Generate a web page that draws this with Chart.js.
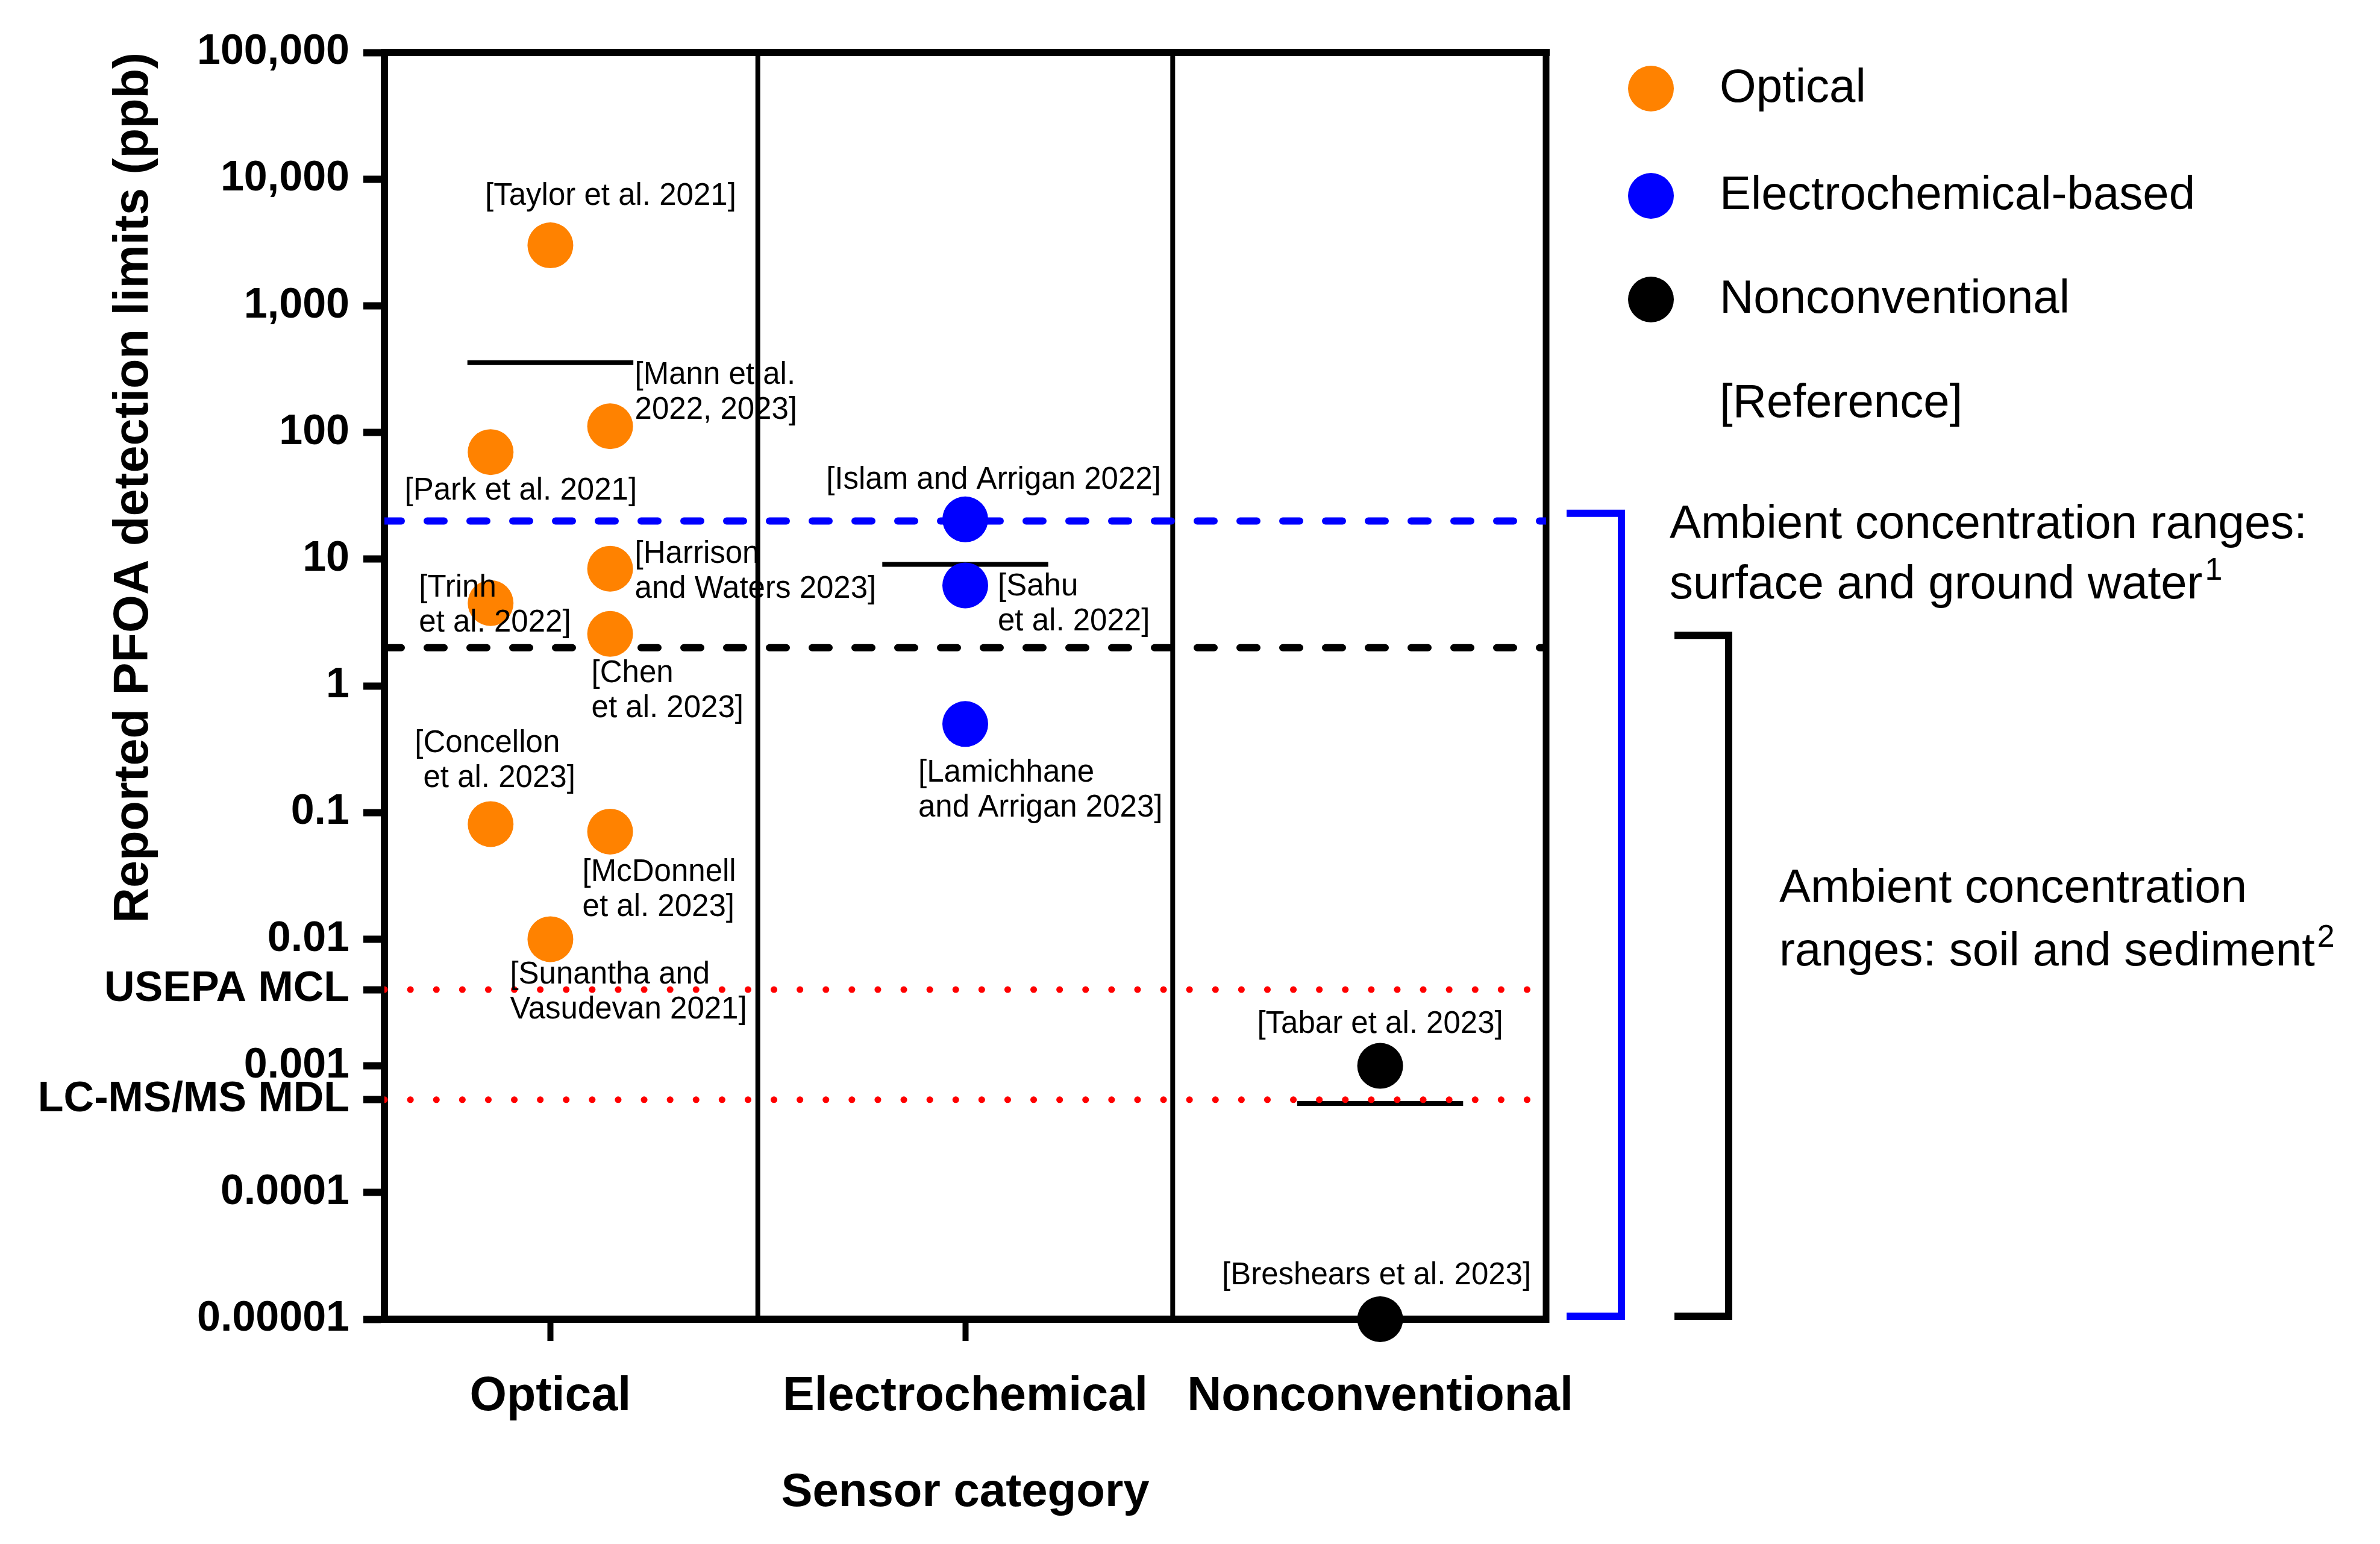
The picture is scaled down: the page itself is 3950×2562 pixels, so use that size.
<!DOCTYPE html>
<html>
<head>
<meta charset="utf-8">
<style>
  html, body { margin: 0; padding: 0; background: #fff; }
  #wrap { width: 3950px; height: 2562px; }
</style>
<script src="https://cdn.jsdelivr.net/npm/chart.js@4.4.0/dist/chart.umd.min.js"></script>
</head>
<body>
<div id="wrap"><canvas id="myChart" width="3950" height="2562"></canvas></div>
<script>
// DATA
const categories = ['Optical', 'Electrochemical', 'Nonconventional'];
const seriesNames = ['Optical', 'Electrochemical-based', 'Nonconventional'];

const yTickValues = [0.00001, 0.0001, 0.00054, 0.001, 0.004, 0.01, 0.1, 1, 10, 100, 1000, 10000, 100000];
const yTickLabels = ['0.00001', '0.0001', 'LC-MS/MS MDL', '0.001', 'USEPA MCL', '0.01', '0.1', '1', '10', '100', '1,000', '10,000', '100,000'];

const opticalRefs = [['[Taylor et al. 2021]'], ['[Mann et al.', '2022, 2023]'], ['[Park et al. 2021]'],
  ['[Harrison', 'and Waters 2023]'], ['[Trinh', 'et al. 2022]'], ['[Chen', 'et al. 2023]'],
  ['[Concellon', ' et al. 2023]'], ['[McDonnell', 'et al. 2023]'], ['[Sunantha and', 'Vasudevan 2021]']];
const opticalLimits = [3000, 112, 70, 8.4, 4.5, 2.57, 0.081, 0.0706, 0.01];
const opticalJitter = [0, 0.144, -0.144, 0.144, -0.144, 0.144, -0.144, 0.144, 0];

const electroRefs = [['[Islam and Arrigan 2022]'], ['[Sahu', 'et al. 2022]'], ['[Lamichhane', 'and Arrigan 2023]']];
const electroLimits = [20.6, 6.2, 0.5];

const nonconvRefs = [['[Tabar et al. 2023]'], ['[Breshears et al. 2023]']];
const nonconvLimits = [0.001, 0.00001];

const waterLevel = 20;      // blue dashed
const soilLevel = 2;        // black dashed
const mclLevel = 0.004;     // USEPA MCL
const mdlLevel = 0.00054;   // LC-MS/MS MDL
const waterRange = [23, 0.00001];
const soilRange = [2.5, 0.00001];

// label placement: [dx, dy of first line, align] relative to the point
const opticalLabelPos = [[100, -81, 'center'], [41, -84, 'left'], [50, 65, 'center'], [41, -24, 'left'],
  [-119, -25, 'left'], [-31, 66, 'left'], [-126, -133, 'left'], [-46, 68, 'left'], [-67, 60, 'left']];
const electroLabelPos = [[47, -65, 'center'], [54, 2, 'left'], [-78, 82, 'left']];
const nonconvLabelPos = [[0, -69, 'center'], [-6, -72, 'center']];

const seriesColors = ['rgb(255,130,0)', 'rgb(0,0,255)', '#000000'];
const FONT = '"Liberation Sans", Arial, Helvetica, sans-serif';

function pts(limits, cat, jitter) {
  return limits.map(function (v, i) { return { x: cat + (jitter ? jitter[i] : 0), y: v }; });
}
function mean(a) { return a.reduce(function (s, v) { return s + v; }, 0) / a.length; }
function meanLine(limits, cat) { var m = mean(limits); return [{ x: cat - 0.2, y: m }, { x: cat + 0.2, y: m }]; }
function hLine(v) { return [{ x: 0.6, y: v }, { x: 3.4, y: v }]; }
function vLine(xv) { return [{ x: xv, y: 0.00001 }, { x: xv, y: 100000 }]; }

function pointSet(i, limits, cat, jitter, refs, pos) {
  return {
    type: 'scatter', label: seriesNames[i], data: pts(limits, cat, jitter),
    backgroundColor: seriesColors[i], pointRadius: 38, pointBorderWidth: 0,
    clip: false, order: 0, refs: refs, labelPos: pos
  };
}
function lineSet(data, color, width, dash, order) {
  return {
    type: 'line', data: data, borderColor: color, borderWidth: width, borderDash: dash || [],
    borderCapStyle: dash ? 'round' : 'butt', pointRadius: 0, fill: false, order: order
  };
}

const data = {
  datasets: [
    pointSet(0, opticalLimits, 1, opticalJitter, opticalRefs, opticalLabelPos),
    pointSet(1, electroLimits, 2, null, electroRefs, electroLabelPos),
    pointSet(2, nonconvLimits, 3, null, nonconvRefs, nonconvLabelPos),
    lineSet(hLine(mclLevel), 'rgb(255,0,0)', 11, [0.1, 43], 1),
    lineSet(hLine(mdlLevel), 'rgb(255,0,0)', 11, [0.1, 43], 1),
    lineSet(meanLine(opticalLimits, 1), '#000', 8, null, 2),
    lineSet(meanLine(electroLimits, 2), '#000', 8, null, 2),
    lineSet(meanLine(nonconvLimits, 3), '#000', 8, null, 2),
    lineSet(hLine(waterLevel), 'rgb(0,0,255)', 12, [28, 43], 3),
    lineSet(hLine(soilLevel), '#000', 12, [28, 43], 3),
    lineSet(vLine(1.5), '#000', 8, null, 4),
    lineSet(vLine(2.5), '#000', 8, null, 4)
  ]
};

// frame top/right
const framePlugin = {
  id: 'frame',
  beforeDatasetsDraw(chart) {
    const a = chart.chartArea, ctx = chart.ctx;
    ctx.save();
    ctx.strokeStyle = '#000';
    ctx.lineWidth = 12;
    ctx.beginPath(); ctx.moveTo(a.left - 6, a.top); ctx.lineTo(a.right + 6, a.top); ctx.stroke();
    ctx.lineWidth = 11;
    ctx.beginPath(); ctx.moveTo(a.right, a.top); ctx.lineTo(a.right, a.bottom + 6); ctx.stroke();
    ctx.restore();
  }
};

// citation labels next to points
const refLabelPlugin = {
  id: 'refLabels',
  afterDatasetsDraw(chart) {
    const ctx = chart.ctx;
    ctx.save();
    ctx.fillStyle = '#000';
    ctx.font = '51px ' + FONT;
    ctx.textBaseline = 'middle';
    chart.data.datasets.forEach(function (ds, di) {
      if (!ds.refs) return;
      const meta = chart.getDatasetMeta(di);
      meta.data.forEach(function (el, i) {
        const p = ds.labelPos[i];
        ctx.textAlign = p[2];
        ds.refs[i].forEach(function (line, k) {
          ctx.fillText(line, el.x + p[0], el.y + p[1] + k * 58);
        });
      });
    });
    ctx.restore();
  }
};

// legend, brackets and notes on the right
const sidePlugin = {
  id: 'side',
  afterDraw(chart) {
    const ctx = chart.ctx, y = chart.scales.y;
    ctx.save();
    const rows = [147, 325, 497, 670];
    ctx.font = '78px ' + FONT;
    ctx.textBaseline = 'middle';
    ctx.textAlign = 'left';
    seriesNames.forEach(function (name, i) {
      ctx.fillStyle = chart.data.datasets[i].backgroundColor;
      ctx.beginPath(); ctx.arc(2740, rows[i], 38, 0, Math.PI * 2); ctx.fill();
      ctx.fillStyle = '#000';
      ctx.fillText(name, 2854, rows[i]);
    });
    ctx.fillText('[Reference]', 2854, rows[3]);

    function bracket(x0, x1, top, bottom, color) {
      ctx.strokeStyle = color; ctx.lineWidth = 12; ctx.lineJoin = 'miter'; ctx.lineCap = 'butt';
      ctx.beginPath(); ctx.moveTo(x0, top); ctx.lineTo(x1, top); ctx.lineTo(x1, bottom); ctx.lineTo(x0, bottom); ctx.stroke();
    }
    bracket(2600, 2691, y.getPixelForValue(waterRange[0]), y.getPixelForValue(waterRange[1]) - 5, 'rgb(0,0,255)');
    bracket(2779, 2869, y.getPixelForValue(soilRange[0]), y.getPixelForValue(soilRange[1]) - 5, '#000');

    function note(lines, x, base, gap, sup) {
      ctx.textBaseline = 'alphabetic';
      ctx.fillStyle = '#000';
      lines.forEach(function (t, k) {
        ctx.font = '78px ' + FONT;
        ctx.fillText(t, x, base + k * gap);
        if (k === lines.length - 1) {
          const w = ctx.measureText(t).width;
          ctx.font = '52px ' + FONT;
          ctx.fillText(sup, x + w + 4, base + k * gap - 31);
        }
      });
    }
    note(['Ambient concentration ranges:', 'surface and ground water'], 2771, 893, 100, '1');
    note(['Ambient concentration', 'ranges: soil and sediment'], 2953, 1497, 105, '2');
    ctx.restore();
  }
};

const config = {
  type: 'scatter',
  data: data,
  options: {
    responsive: false,
    devicePixelRatio: 1,
    animation: false,
    events: [],
    layout: { padding: { left: 0, top: 87, right: 1384, bottom: 0 } },
    plugins: { legend: { display: false }, tooltip: { enabled: false } },
    scales: {
      x: {
        type: 'linear', position: 'bottom', min: 0.6, max: 3.4,
        afterBuildTicks: function (axis) { axis.ticks = [1, 2, 3].map(function (v) { return { value: v }; }); },
        afterFit: function (scale) { scale.height = 373; },
        ticks: {
          autoSkip: false, maxRotation: 0, padding: 46, color: '#000',
          font: { family: FONT, size: 79, weight: 'bold' },
          callback: function (v) { return categories[Math.round(v) - 1]; }
        },
        grid: { display: true, drawOnChartArea: false, drawTicks: true, tickLength: 36, tickWidth: 10, tickColor: '#000', color: '#000' },
        border: { display: true, width: 12, color: '#000' },
        title: { display: true, text: 'Sensor category', color: '#000', font: { family: FONT, size: 78, weight: 'bold' }, padding: { top: 0, bottom: 38 } }
      },
      y: {
        type: 'logarithmic', position: 'left', min: 0.00001, max: 100000,
        afterBuildTicks: function (axis) { axis.ticks = yTickValues.map(function (v) { return { value: v }; }); },
        afterFit: function (scale) { scale.width = 638; },
        ticks: {
          autoSkip: false, padding: 23, color: '#000',
          font: { family: FONT, size: 70, weight: 'bold' },
          callback: function (v, i) { return yTickLabels[i]; }
        },
        grid: { display: true, drawOnChartArea: false, drawTicks: true, tickLength: 35, tickWidth: 12, tickColor: '#000', color: '#000' },
        border: { display: true, width: 12, color: '#000' },
        title: { display: true, align: 'end', text: 'Reported PFOA detection limits (ppb)', color: '#000', font: { family: FONT, size: 81, weight: 'bold' }, padding: { top: 174, bottom: 0 } }
      }
    }
  },
  plugins: [framePlugin, refLabelPlugin, sidePlugin]
};

const myChart = new Chart(document.getElementById('myChart'), config);
</script>
</body>
</html>
